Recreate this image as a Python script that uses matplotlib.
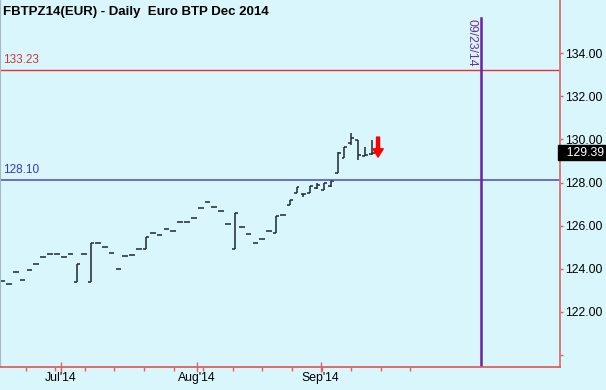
import matplotlib
matplotlib.use('Agg')
import matplotlib.pyplot as plt
import numpy as np
from matplotlib.transforms import blended_transform_factory

plt.rcParams['font.family'] = ['Liberation Sans', 'DejaVu Sans']

# ---- data (daily OHLC, Euro BTP Dec 2014) ----
opens = [123.42, 123.27, 123.84, 123.47, 123.93, 124.23, 124.54, 124.69, 124.69, 124.54,
         124.69, 123.38, 124.69, 123.39, 125.20, 124.99, 124.71, 123.98, 124.57, 124.63,
         124.90, 124.90, 125.67, 125.55, 125.84, 125.76, 126.16, 126.16, 126.35, 126.80,
         127.08, 126.85, 126.66, 126.09, 124.90, 125.95, 125.59, 125.19, 125.39, 125.76,
         125.67, 126.50, 126.95, 127.51, 127.46, 127.51, 127.75, 127.65, 127.85, 128.43,
         129.12, 129.82, 129.97, 129.23, 129.32]
highs = [123.42, 123.27, 123.84, 123.47, 123.93, 124.23, 124.54, 124.69, 124.69, 124.54,
         124.69, 124.20, 124.69, 125.18, 125.20, 124.99, 124.71, 123.98, 124.57, 124.63,
         124.90, 125.45, 125.67, 125.55, 125.84, 125.76, 126.16, 126.16, 126.35, 126.80,
         127.08, 126.85, 126.66, 126.09, 126.57, 125.95, 125.59, 125.19, 125.39, 125.76,
         126.46, 126.50, 127.19, 127.79, 127.46, 127.84, 127.98, 127.96, 128.12, 129.43,
         129.66, 130.28, 129.97, 129.66, 129.97]
lows = [123.42, 123.27, 123.84, 123.47, 123.93, 124.23, 124.54, 124.69, 124.69, 124.54,
        124.69, 123.38, 124.69, 123.39, 125.20, 124.99, 124.71, 123.98, 124.57, 124.63,
        124.90, 124.90, 125.67, 125.55, 125.84, 125.76, 126.16, 126.16, 126.35, 126.80,
        127.08, 126.85, 126.66, 126.09, 124.90, 125.95, 125.59, 125.19, 125.39, 125.76,
        125.67, 126.50, 126.95, 127.51, 127.33, 127.51, 127.70, 127.65, 127.80, 128.43,
        129.12, 129.74, 129.04, 129.23, 129.28]
closes = [123.42, 123.27, 123.84, 123.47, 123.93, 124.23, 124.54, 124.69, 124.69, 124.54,
          124.69, 124.20, 124.69, 125.18, 125.20, 124.99, 124.71, 123.98, 124.57, 124.63,
          124.90, 125.45, 125.67, 125.55, 125.84, 125.76, 126.16, 126.16, 126.35, 126.80,
          127.08, 126.85, 126.66, 126.09, 126.57, 125.95, 125.59, 125.19, 125.39, 125.76,
          126.46, 126.50, 127.19, 127.79, 127.46, 127.84, 127.90, 127.96, 128.05, 129.35,
          129.66, 130.05, 129.28, 129.30, 129.39]

resistance = 133.23
support = 128.10
last_price = 129.39
signal_top, signal_tip = 130.11, 129.18
marker_date = "09/23/14"
marker_bar = 70
month_labels = ["Jul'14", "Aug'14", "Sep'14"]
month_bars = [8.57, 28.47, 46.5]
price_ticks = [120, 122, 124, 126, 128, 130, 132, 134]
title = "FBTPZ14(EUR) - Daily  Euro BTP Dec 2014"

# ---- figure ----
BG = '#d9f6fc'
fig = plt.figure(figsize=(6.06, 3.90), dpi=100, facecolor=BG)
ax = fig.add_axes([0.0, 23 / 390, 560 / 606, 367 / 390], facecolor=BG)

x = np.arange(len(opens))
o = np.array(opens); h = np.array(highs); l = np.array(lows); c = np.array(closes)
bar_col = '#1e2a2a'
rng = h > l
ax.vlines(x[rng], l[rng], h[rng], color=bar_col, lw=1.1)
ax.hlines(o, x - 0.42, x, color=bar_col, lw=1.1)
ax.hlines(c, x, x + 0.42, color=bar_col, lw=1.1)

ax.set_xlim(-0.29, 81.46)
ax.set_ylim(119.43, 136.48)

# horizontal levels
ax.axhline(resistance, color='#e03434', lw=1.0)
ax.axhline(support, color='#5555c8', lw=1.2)
ax.annotate(f"{resistance:.2f}", xy=(0.0, resistance), xycoords=('axes fraction', 'data'),
            xytext=(2, 3), textcoords='offset points', ha='left', va='bottom',
            color='#c83838', fontsize=8.5)
ax.annotate(f"{support:.2f}", xy=(0.0, support), xycoords=('axes fraction', 'data'),
            xytext=(2, 3), textcoords='offset points', ha='left', va='bottom',
            color='#3838c0', fontsize=8.5)

# vertical date marker
ax.axvline(marker_bar, ymin=0, ymax=0.951, color='#6a22a0', lw=1.8)
ax.annotate(marker_date, xy=(marker_bar, 1.0), xycoords=('data', 'axes fraction'),
            xytext=(-7, -14), textcoords='offset points', rotation=-90,
            ha='center', va='top', color='#7030a0', fontsize=8.8)

# signal arrow
ax.annotate('', xy=(len(opens) - 1 + 0.9, signal_tip),
            xytext=(len(opens) - 1 + 0.9, signal_top),
            arrowprops=dict(facecolor='#ff0000', edgecolor='#ff0000',
                            width=2.2, headwidth=7.5, headlength=6, shrink=0))

# last price box
ax.text(1.0, last_price, f"  {last_price:.2f} ",
        transform=blended_transform_factory(ax.transAxes, ax.transData),
        ha='left', va='center', color='white', fontsize=8.8,
        bbox=dict(boxstyle='square,pad=0.15', facecolor='black', edgecolor='black'))

# axes styling
ax.spines['top'].set_visible(False)
ax.spines['left'].set_color('#a8b8c0')
ax.spines['right'].set_color('#e07070')
ax.spines['bottom'].set_color('#e06060')
ax.spines['right'].set_linewidth(1.3)
ax.spines['bottom'].set_linewidth(1.3)

ax.yaxis.tick_right()
ax.set_yticks(price_ticks)
ax.set_yticklabels(['' if t == 120 else f"{t:.2f}" for t in price_ticks])
ax.tick_params(axis='y', direction='out', length=2.5, width=1, color='#e06060',
               labelsize=8.8, pad=1, labelcolor='black')

ax.set_xticks(month_bars)
ax.set_xticklabels(month_labels)
ax.set_xticks(np.arange(14) * 4.32 + 3.46, minor=True)
ax.tick_params(axis='x', which='major', direction='inout', length=7, width=1,
               color='#e06060', labelsize=8.8, pad=0)
ax.tick_params(axis='x', which='minor', direction='out', length=3, width=1,
               color='#e06060')

fig.text(3 / 606, 1 - 12 / 390, title, ha='left', va='center',
         fontsize=9.5, fontweight='bold', color='black')

fig.savefig('out.png', dpi=100, facecolor=BG)
